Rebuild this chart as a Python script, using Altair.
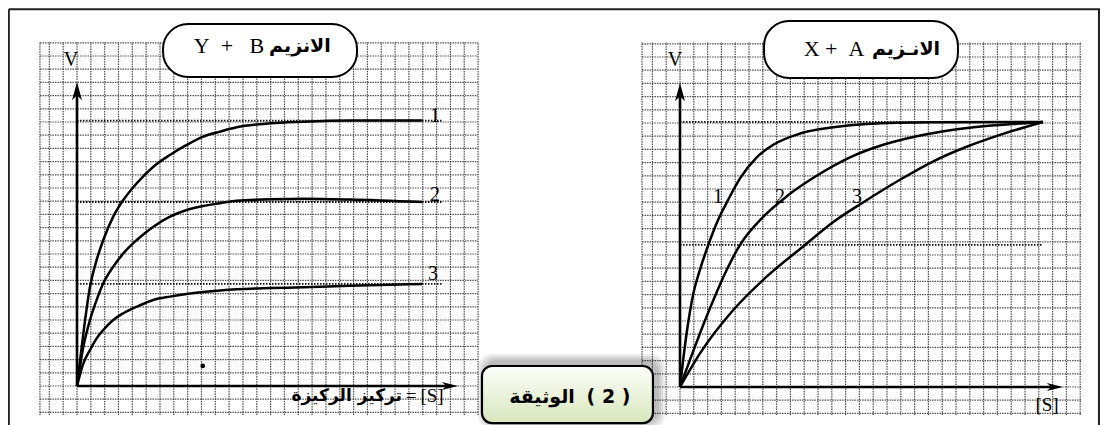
import altair as alt
import pandas as pd

# ---------------- values (grid-cell units) ----------------
# left panel : enzyme B + Y  (three curves with different plateaus)
left_s  = [0, 0.46, 0.94, 1.42, 1.90, 2.62, 3.35, 4.32, 5.52, 6.72, 7.93, 9.13, 10.34, 11.55, 13.96, 16.36, 19.74, 24.95]
left_v1 = [0, 3.99, 7.52, 9.55, 11.06, 12.83, 14.09, 15.36, 16.61, 17.50, 18.26, 18.89, 19.27, 19.60, 19.90, 20.02, 20.11, 20.11]
left_v2 = [0, 2.98, 5.00, 6.52, 7.78, 9.04, 10.05, 11.06, 12.07, 12.83, 13.33, 13.64, 13.84, 14.04, 14.14, 14.19, 14.13, 13.94]
left_v3 = [0, 1.72, 2.73, 3.61, 4.24, 5.00, 5.51, 6.01, 6.52, 6.77, 6.97, 7.12, 7.24, 7.33, 7.42, 7.48, 7.60, 7.73]
left_levels = [20.11, 13.94, 7.73]
left_labels = ["1", "2", "3"]

# right panel : enzyme A + X  (three curves converging to the same Vmax)
right_s1 = [0, 0.48, 0.97, 1.45, 2.05, 2.78, 3.50, 4.35, 5.56, 6.76, 8.70, 11.11, 13.53, 18.36, 26.3]
right_v1 = [0, 4.07, 7.10, 8.90, 10.76, 12.70, 14.20, 15.80, 17.40, 18.35, 19.20, 19.67, 19.92, 20.05, 20.08]
right_s2 = [0, 0.72, 1.45, 2.42, 3.38, 4.35, 6.04, 7.80, 9.90, 12.32, 14.73, 17.15, 19.57, 21.98, 24.40, 26.3]
right_v2 = [0, 2.05, 4.07, 6.59, 8.86, 10.76, 12.90, 14.50, 16.00, 17.40, 18.35, 19.00, 19.45, 19.75, 19.95, 20.08]
right_s3 = [0, 1.45, 3.86, 6.28, 9.06, 11.11, 13.29, 15.94, 18.36, 20.77, 23.19, 26.3]
right_v3 = [0, 2.55, 5.83, 8.36, 10.76, 12.50, 14.00, 15.70, 17.10, 18.20, 19.10, 20.08]
right_levels = [20.08, 10.76]
right_labels = ["1", "2", "3"]

left_title = ["Y\u00a0\u00a0+\u00a0\u00a0\u00a0B", "الانزيم"]
right_title = ["X\u00a0+\u00a0\u00a0A", "الانـزيم"]
x_label_left = ["[S]", "=", "تركيز الركيزة"]
x_label_right = "[S]"
doc_label = ["الوثيقة", "( 2 )"]

# ---------------- layout ----------------
W, H = 1092, 417
SERIF = "Liberation Serif"
ARAB = "DejaVu Sans"


def dom_x(ox, cx):
    return [(8 - ox) / cx, (8 + W - ox) / cx]


def dom_y(oy, cy):
    return [(oy - (8 + H)) / cy, (oy - 8) / cy]


SX = {"L": alt.Scale(domain=dom_x(77, 13.83), nice=False, zero=False),
      "R": alt.Scale(domain=dom_x(680, 13.8), nice=False, zero=False)}
SY = {"L": alt.Scale(domain=dom_y(386, 13.2), nice=False, zero=False),
      "R": alt.Scale(domain=dom_y(387, 13.2), nice=False, zero=False)}


def X(f, p):
    return alt.X(f, type="quantitative", scale=SX[p], axis=None)


def Y(f, p):
    return alt.Y(f, type="quantitative", scale=SY[p], axis=None)


def text_layer(p, x, y, t, **kw):
    return (alt.Chart(pd.DataFrame({"x": [x], "y": [y], "t": [t]}))
            .mark_text(color="black", baseline="middle", **kw)
            .encode(x=X("x", p), y=Y("y", p), text="t:N"))


layers = []

# ---------- graph-paper grid ----------
grid_ext = {"L": (-2.68, 29.0, -2.2, 26.06), "R": (-2.75, 29.13, -2.12, 26.14)}
for p in ["L", "R"]:
    x0, x1, y0, y1 = grid_ext[p]
    vx = [x0] + list(range(-2, 30))
    hy = list(range(-2, 27))
    gv = pd.DataFrame({"x": vx, "y0": [y0] * len(vx), "y1": [y1] * len(vx)})
    gh = pd.DataFrame({"y": hy, "x0": [x0] * len(hy), "x1": [x1] * len(hy)})
    layers.append(alt.Chart(gv).mark_rule(color="#333333", strokeWidth=1.2, strokeDash=[1.5, 1], opacity=0.85)
                  .encode(x=X("x", p), y=Y("y0", p), y2="y1"))
    layers.append(alt.Chart(gh).mark_rule(color="#333333", strokeWidth=1.2, strokeDash=[1.5, 1], opacity=0.85)
                  .encode(y=Y("y", p), x=X("x0", p), x2="x1"))

# ---------- outer frame of the document ----------
frame_l = pd.DataFrame({"x0": [-4.93, -4.93], "x1": [75.0, -4.93], "y0": [28.55, -3.0], "y1": [28.55, 28.55]})
layers.append(alt.Chart(frame_l).mark_rule(color="#222", strokeWidth=2)
              .encode(x=X("x0", "L"), x2="x1", y=Y("y0", "L"), y2="y1"))
frame_r = pd.DataFrame({"x0": [30.36], "y0": [-3.0], "y1": [28.6]})
layers.append(alt.Chart(frame_r).mark_rule(color="#222", strokeWidth=2)
              .encode(x=X("x0", "R"), y=Y("y0", "R"), y2="y1"))

# ---------- dotted plateau lines ----------
dl = pd.DataFrame({"y": left_levels, "x0": [0] * 3, "x1": [26.46] * 3})
layers.append(alt.Chart(dl).mark_rule(color="#111", strokeWidth=1.8, strokeDash=[1.5, 1.5])
              .encode(y=Y("y", "L"), x=X("x0", "L"), x2="x1"))
dr = pd.DataFrame({"y": right_levels, "x0": [0] * 2, "x1": [26.3] * 2})
layers.append(alt.Chart(dr).mark_rule(color="#111", strokeWidth=1.8, strokeDash=[1.5, 1.5])
              .encode(y=Y("y", "R"), x=X("x0", "R"), x2="x1"))

# ---------- curves ----------
cl = pd.concat([pd.DataFrame({"s": left_s, "v": v, "c": str(i + 1)})
                for i, v in enumerate([left_v1, left_v2, left_v3])])
layers.append(alt.Chart(cl).mark_line(color="black", strokeWidth=2.5, interpolate="monotone")
              .encode(x=X("s", "L"), y=Y("v", "L"), detail="c:N"))
cr = pd.concat([pd.DataFrame({"s": s, "v": v, "c": str(i + 1)})
                for i, (s, v) in enumerate([(right_s1, right_v1), (right_s2, right_v2), (right_s3, right_v3)])])
layers.append(alt.Chart(cr).mark_line(color="black", strokeWidth=2.5, interpolate="monotone")
              .encode(x=X("s", "R"), y=Y("v", "R"), detail="c:N"))

# ---------- axes with arrows ----------
UP = "M0,0L0.55,2L0,1.45L-0.55,2Z"
RIGHT = "M0,0L-2,-0.5L-1.45,0L-2,0.5Z"
ax_tips = {"L": (27.55, 23.03), "R": (27.75, 23.03)}
for p in ["L", "R"]:
    tx, ty = ax_tips[p]
    axes = pd.DataFrame({"x0": [0, 0], "x1": [0, tx - 0.5], "y0": [0, 0], "y1": [ty - 0.5, 0]})
    layers.append(alt.Chart(axes).mark_rule(color="black", strokeWidth=2.6)
                  .encode(x=X("x0", p), x2="x1", y=Y("y0", p), y2="y1"))
    layers.append(alt.Chart(pd.DataFrame({"x": [0], "y": [ty]}))
                  .mark_point(shape=UP, size=330, filled=True, color="black", opacity=1)
                  .encode(x=X("x", p), y=Y("y", p)))
    layers.append(alt.Chart(pd.DataFrame({"x": [tx], "y": [0]}))
                  .mark_point(shape=RIGHT, size=260, filled=True, color="black", opacity=1)
                  .encode(x=X("x", p), y=Y("y", p)))

# stray dot in the left panel
layers.append(alt.Chart(pd.DataFrame({"x": [9.09], "y": [1.52]}))
              .mark_point(filled=True, color="black", size=22, opacity=1)
              .encode(x=X("x", "L"), y=Y("y", "L")))

# ---------- curve numbers & axis letters ----------
tl = pd.DataFrame({"x": [25.89, 25.89, 25.74], "y": [20.42, 14.47, 8.52], "t": left_labels})
layers.append(alt.Chart(tl).mark_text(font=SERIF, fontSize=20, color="black", baseline="middle")
              .encode(x=X("x", "L"), y=Y("y", "L"), text="t:N"))
tr = pd.DataFrame({"x": [2.75, 7.25, 12.83], "y": [14.39] * 3, "t": right_labels})
layers.append(alt.Chart(tr).mark_text(font=SERIF, fontSize=20, color="black", baseline="middle")
              .encode(x=X("x", "R"), y=Y("y", "R"), text="t:N"))
layers.append(text_layer("L", -0.43, 24.70, "V", font=SERIF, fontSize=20))
layers.append(text_layer("R", -0.36, 24.77, "V", font=SERIF, fontSize=20))

# x-axis labels
layers.append(text_layer("L", 25.67, -0.76, x_label_left[0], font=SERIF, fontSize=19))
layers.append(text_layer("L", 24.15, -0.76, x_label_left[1], font=SERIF, fontSize=19))
layers.append(text_layer("L", 23.5, -0.76, x_label_left[2], font=ARAB, fontSize=17,
                         fontWeight="bold", align="right"))
layers.append(text_layer("R", 26.6, -1.36, x_label_right, font=SERIF, fontSize=19))

# ---------- title pills ----------
boxes = {"L": (6.22, 20.25, 23.41, 27.42), "R": (6.09, 20.14, 23.41, 27.73)}
for p, (x0, x1, y0, y1) in boxes.items():
    layers.append(alt.Chart(pd.DataFrame({"x0": [x0], "x1": [x1], "y0": [y0], "y1": [y1]}))
                  .mark_rect(fill="white", stroke="black", strokeWidth=2, cornerRadius=25)
                  .encode(x=X("x0", p), x2="x1", y=Y("y0", p), y2="y1"))
title_pos = {"L": (10.99, 16.12, 25.76, left_title), "R": (11.16, 16.38, 25.6, right_title)}
for p, (xa, xb, yy, tt) in title_pos.items():
    layers.append(text_layer(p, xa, yy, tt[0], font=SERIF, fontSize=22))
    layers.append(text_layer(p, xb, yy, tt[1], font=ARAB, fontSize=19, fontWeight="bold"))

# ---------- document label box ----------
bx0, bx1, by0, by1 = -14.35, -1.96, -2.73, 1.59
shadow = pd.DataFrame({
    "x0": [bx0 + (4 - 2 * k) / 13.8 for k in range(1, 5)],
    "x1": [bx1 + (4 + 2 * k) / 13.8 for k in range(1, 5)],
    "y0": [by0 + (2 - 2 * k) / 13.2 for k in range(1, 5)],
    "y1": [by1 + (4 + 2 * k) / 13.2 for k in range(1, 5)],
})
layers.append(alt.Chart(shadow).mark_rect(color="black", opacity=0.07, cornerRadius=14)
              .encode(x=X("x0", "R"), x2="x1", y=Y("y0", "R"), y2="y1"))
grad = alt.Gradient(gradient="linear",
                    stops=[alt.GradientStop(color="#fdfefa", offset=0),
                           alt.GradientStop(color="#d8e7bd", offset=1)],
                    x1=0, x2=0, y1=0, y2=1)
layers.append(alt.Chart(pd.DataFrame({"x0": [bx0], "x1": [bx1], "y0": [by0], "y1": [by1]}))
              .mark_rect(fill=grad, stroke="black", strokeWidth=2.2, cornerRadius=10)
              .encode(x=X("x0", "R"), x2="x1", y=Y("y0", "R"), y2="y1"))
layers.append(text_layer("R", -10.0, -0.76, doc_label[0], font=ARAB, fontSize=19, fontWeight="bold"))
layers.append(text_layer("R", -5.18, -0.76, doc_label[1], font=ARAB, fontSize=19, fontWeight="bold"))

chart = (alt.layer(*layers)
         .resolve_scale(x="independent", y="independent")
         .properties(width=W, height=H, padding=0,
                     autosize=alt.AutoSizeParams(type="none"),
                     background="white")
         .configure_view(stroke=None))

chart.save("out.html", embed_options={"renderer": "svg", "actions": False})
